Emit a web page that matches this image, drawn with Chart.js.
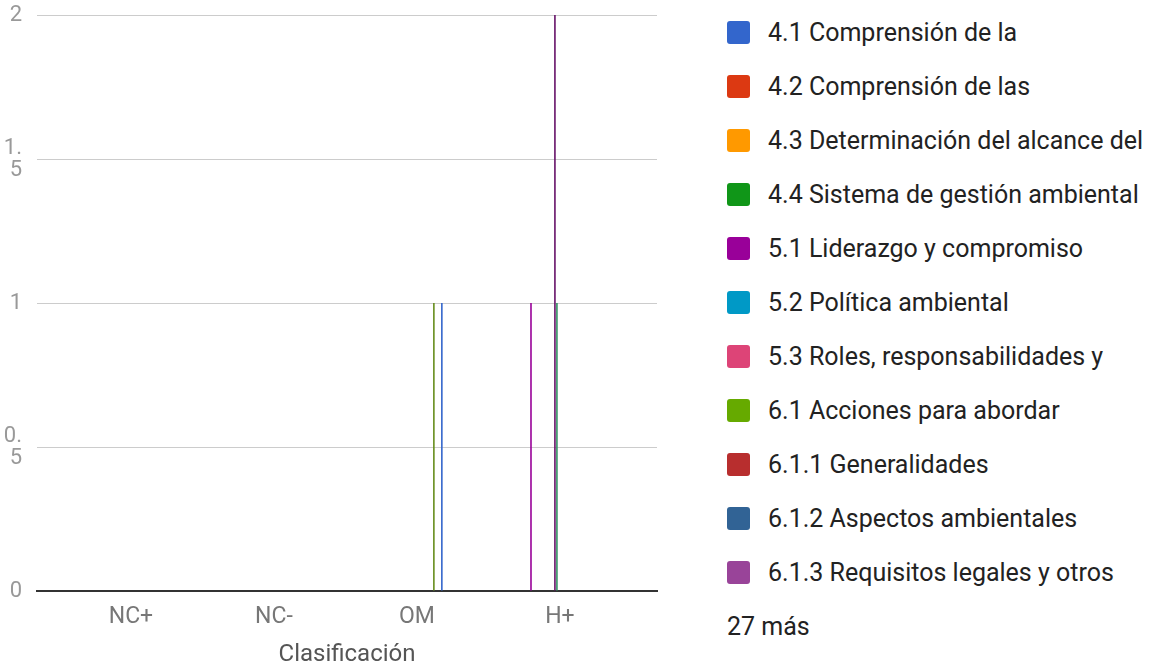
<!DOCTYPE html>
<html>
<head>
<meta charset="utf-8">
<script src="https://cdn.jsdelivr.net/npm/chart.js@4.4.1/dist/chart.umd.min.js"></script>
<style>
  body { margin: 0; background: #fff; font-family: Roboto, sans-serif; }
  #wrap { position: absolute; left: 0; top: 0; width: 660px; height: 669px; }
  #legend { position: absolute; left: 727px; top: 0; }
  .item { position: absolute; left: 0; height: 24px; white-space: nowrap; }
  .sw { position: absolute; left: 0; top: 0; width: 23px; height: 23px; border-radius: 3px; }
  .lbl { position: absolute; left: 41px; top: -3px; font-size: 25px; color: #222; line-height: 29px; }
  .more { position: absolute; left: 0; font-size: 25px; color: #222; white-space: nowrap; }
</style>
</head>
<body>
<div id="wrap"><canvas id="chart"></canvas></div>
<div id="legend"></div>
<script>
// categories on the x axis
const categories = ['NC+', 'NC-', 'OM', 'H+'];

// one series per clause (38 in total, only 11 fit in the legend)
const seriesNames = [
  '4.1 Comprensión de la', '4.2 Comprensión de las', '4.3 Determinación del alcance del',
  '4.4 Sistema de gestión ambiental', '5.1 Liderazgo y compromiso', '5.2 Política ambiental',
  '5.3 Roles, responsabilidades y', '6.1 Acciones para abordar', '6.1.1 Generalidades',
  '6.1.2 Aspectos ambientales', '6.1.3 Requisitos legales y otros',
  '6.1.4 Planificación de acciones', '6.2 Objetivos ambientales', '6.2.1 Objetivos ambientales',
  '6.2.2 Planificación de acciones', '7.1 Recursos', '7.2 Competencia', '7.3 Toma de conciencia',
  '7.4 Comunicación', '7.4.1 Generalidades', '7.4.2 Comunicación interna', '7.4.3 Comunicación externa',
  '7.5 Información documentada', '7.5.1 Generalidades', '7.5.2 Creación y actualización',
  '7.5.3 Control de la información', '8.1 Planificación y control', '8.2 Preparación y respuesta',
  '9.1 Seguimiento, medición', '9.1.1 Generalidades', '9.1.2 Evaluación del cumplimiento',
  '9.2 Auditoría interna', '9.2.1 Generalidades', '9.2.2 Programa de auditoría',
  '9.3 Revisión por la dirección', '10.1 Generalidades', '10.2 No conformidad',
  '10.3 Mejora continua'
];

// counts per category, one entry per series (same order as seriesNames)
const ncPlus  = [0,0,0,0,0,0,0,0,0,0, 0,0,0,0,0,0,0,0,0,0, 0,0,0,0,0,0,0,0,0,0, 0,0,0,0,0,0,0,0];
const ncMinus = [0,0,0,0,0,0,0,0,0,0, 0,0,0,0,0,0,0,0,0,0, 0,0,0,0,0,0,0,0,0,0, 0,0,0,0,0,0,0,0];
const om      = [0,0,0,0,0,0,0,0,0,0, 0,0,0,0,0,0,0,0,0,0, 0,0,0,0,0,0,0,1,0,0, 0,1,0,0,0,0,0,0];
const hPlus   = [0,0,0,0,1,0,0,0,0,0, 0,0,0,0,0,0,2,1,0,0, 0,0,0,0,0,0,0,0,0,0, 0,0,0,0,0,0,0,0];

const yTicks = [0, 0.5, 1, 1.5, 2];
const yTickLabels = ['0', ['0.', '5'], '1', ['1.', '5'], '2'];

const palette = ['#3366cc','#dc3912','#ff9900','#109618','#990099','#0099c6','#dd4477','#66aa00',
  '#b82e2e','#316395','#994499','#22aa99','#aaaa11','#6633cc','#e67300','#8b0707','#651067',
  '#329262','#5574a6','#3b3eac','#b77322','#16d620','#b91383','#f4359e','#9c5935','#a9c413',
  '#2a778d','#668d1c','#bea413','#0c5922','#743411'];

const byCategory = [ncPlus, ncMinus, om, hPlus];

const datasets = seriesNames.map((name, s) => ({
  label: name,
  data: byCategory.map((vals, c) => ({ x: c, y: vals[s] })),
  backgroundColor: palette[s % palette.length],
  borderWidth: 0,
  categoryPercentage: 0.53,
  barPercentage: 0.8
}));

new Chart(document.getElementById('chart'), {
  type: 'bar',
  data: { datasets: datasets },
  options: {
    responsive: true,
    maintainAspectRatio: false,
    animation: false,
    layout: { padding: { top: 15, right: 3, left: 0, bottom: 0 } },
    plugins: { legend: { display: false }, tooltip: { enabled: false } },
    scales: {
      x: {
        type: 'linear',
        offset: false,
        min: -0.657,
        max: 3.679,
        afterBuildTicks: (scale) => { scale.ticks = categories.map((c, i) => ({ value: i })); },
        afterFit: (scale) => { scale.height = 78; },
        grid: { display: false, drawTicks: false },
        border: { color: '#333', width: 2 },
        ticks: {
          autoSkip: false,
          maxRotation: 0,
          padding: 12,
          color: '#777',
          font: { family: 'Roboto', size: 23 },
          callback: (v) => categories[v]
        },
        title: {
          display: true,
          text: 'Clasificación',
          color: '#555',
          font: { family: 'Roboto', size: 24 },
          padding: { top: 2, bottom: 0 }
        }
      },
      y: {
        min: 0,
        max: 2,
        afterBuildTicks: (scale) => { scale.ticks = yTicks.map(v => ({ value: v })); },
        afterFit: (scale) => {
          scale.width = 37;
          scale.paddingTop = 0;
          scale.paddingBottom = 0;
        },
        grid: { color: '#ccc', lineWidth: 1, drawTicks: false },
        border: { display: false },
        ticks: {
          padding: 15,
          color: '#999',
          font: { family: 'Roboto', size: 22, lineHeight: 1.0 },
          callback: (v) => yTickLabels[yTicks.indexOf(v)]
        }
      }
    }
  }
});

// legend on the right: first 11 series + "27 más"
const legend = document.getElementById('legend');
const shown = 11;
for (let i = 0; i < shown; i++) {
  const row = document.createElement('div');
  row.className = 'item';
  row.style.top = (21 + i * 54) + 'px';
  row.innerHTML = '<span class="sw" style="background:' + palette[i] + '"></span>' +
    '<span class="lbl">' + seriesNames[i] + '</span>';
  legend.appendChild(row);
}
const more = document.createElement('div');
more.className = 'more';
more.style.top = (21 + shown * 54 - 3) + 'px';
more.textContent = (seriesNames.length - shown) + ' más';
legend.appendChild(more);
</script>
</body>
</html>
